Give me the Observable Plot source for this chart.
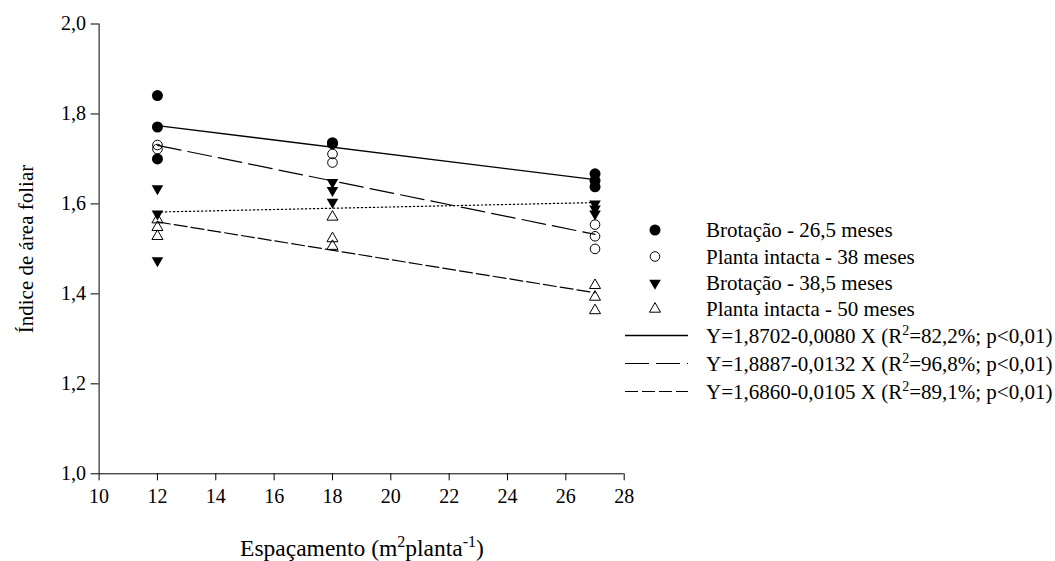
<!DOCTYPE html>
<html>
<head>
<meta charset="utf-8">
<script src="https://cdn.jsdelivr.net/npm/d3@7"></script>
<script src="https://cdn.jsdelivr.net/npm/@observablehq/plot@0.6"></script>
<style>
  html, body { margin: 0; padding: 0; background: #fff; }
  #chart svg { display: block; }
</style>
</head>
<body>
<div id="chart"></div>
<script>
// Spacing treatments (m² per plant) and observed leaf area index per treatment
const spacing = [12, 18, 27];
const brotacao265 = [[1.841, 1.771, 1.700], [1.736, 1.734], [1.667, 1.652, 1.638]];
const planta38    = [[1.731, 1.722], [1.711, 1.692], [1.554, 1.528, 1.500]];
const brotacao385 = [[1.634, 1.578, 1.474], [1.648, 1.630, 1.604], [1.600, 1.589, 1.578]];
const planta50    = [[1.565, 1.548, 1.528], [1.571, 1.523, 1.506], [1.419, 1.393, 1.363]];

// Fitted linear models Y = a + bX (brotação 26,5; planta 38; brotação 38,5; planta 50)
const fitIntercept = [1.8702, 1.8887, 1.5652, 1.6860];
const fitSlope     = [-0.0080, -0.0132, 0.0014, -0.0105];
const fitRange     = [12, 27];

const seriesLabels = ["Brotação - 26,5 meses", "Planta intacta - 38 meses", "Brotação - 38,5 meses", "Planta intacta - 50 meses"];
const equationLabels = ["Y=1,8702-0,0080 X (R", "Y=1,8887-0,0132 X (R", "Y=1,6860-0,0105 X (R"];
const r2Labels = ["=82,2%; p<0,01)", "=96,8%; p<0,01)", "=89,1%; p<0,01)"];

const xTicks = [10, 12, 14, 16, 18, 20, 22, 24, 26, 28];
const yTicks = [1.0, 1.2, 1.4, 1.6, 1.8, 2.0];

const SERIF = "'Liberation Serif', 'Times New Roman', serif";
const comma = d => d3.format(".1f")(d).replace(".", ",");

// Downward-pointing triangle with the same geometry as d3.symbolTriangle
const triangleDown = {
  draw(context, size) {
    const y = -Math.sqrt(size / (Math.sqrt(3) * 3));
    context.moveTo(0, -2 * y);
    context.lineTo(-Math.sqrt(3) * y, y);
    context.lineTo(Math.sqrt(3) * y, y);
    context.closePath();
  }
};

const groups = [brotacao265, planta38, brotacao385, planta50];
const points = groups.flatMap((g, s) =>
  g.flatMap((vals, i) => vals.map(v => ({x: spacing[i], y: v, s})))
);
const fits = [0, 1, 2, 3].flatMap(s =>
  fitRange.map(x => ({x, y: fitIntercept[s] + fitSlope[s] * x, s}))
);

const lineStyles = [
  {strokeDasharray: null, strokeWidth: 1.3},
  {strokeDasharray: "24,7", strokeWidth: 1.2},
  {strokeDasharray: "1.3,2.7", strokeWidth: 1.2},
  {strokeDasharray: "13,4", strokeWidth: 1.2}
];
const markerStyles = [
  {symbol: "circle", r: 5.5, fill: "black", stroke: "none"},
  {symbol: "circle", r: 4.8, fill: "none", stroke: "black"},
  {symbol: triangleDown, r: 4.3, fill: "black", stroke: "none"},
  {symbol: "triangle", r: 4.1, fill: "none", stroke: "black"}
];

const chart = Plot.plot({
  width: 1055,
  height: 561,
  marginLeft: 98.6,
  marginRight: 431.3,
  marginTop: 23.5,
  marginBottom: 87.7,
  style: {fontFamily: SERIF, fontSize: "20px", color: "black", background: "white"},
  x: {domain: [10, 28]},
  y: {domain: [1.0, 2.0]},
  marks: [
    Plot.axisX({ticks: xTicks, tickSize: 7, tickPadding: 8, tickFormat: d => String(d), label: null}),
    Plot.axisY({ticks: yTicks, tickSize: 8, tickPadding: 5, tickFormat: comma, label: null}),
    Plot.ruleX([10], {stroke: "black", strokeWidth: 1}),
    Plot.ruleY([1.0], {stroke: "black", strokeWidth: 1}),
    ...lineStyles.map((st, s) => Plot.line(fits.filter(d => d.s === s), {
      x: "x", y: "y", stroke: "black", strokeWidth: st.strokeWidth, strokeDasharray: st.strokeDasharray
    })),
    ...markerStyles.map((m, s) => Plot.dot(points.filter(d => d.s === s), {
      x: "x", y: "y", symbol: () => m.symbol, r: m.r, fill: m.fill, stroke: m.stroke, strokeWidth: 1
    }))
  ]
});

document.getElementById("chart").appendChild(chart);

const svg = d3.select(chart);

// Axis titles with superscripts
svg.append("text")
  .attr("transform", "translate(33,249) rotate(-90)")
  .attr("text-anchor", "middle")
  .attr("font-family", SERIF).attr("font-size", 21).attr("fill", "black")
  .text("Índice de área foliar");

const xTitle = svg.append("text")
  .attr("x", 362).attr("y", 556)
  .attr("text-anchor", "middle")
  .attr("font-family", SERIF).attr("font-size", 23.5).attr("fill", "black");
xTitle.append("tspan").text("Espaçamento (m");
xTitle.append("tspan").attr("font-size", 16).attr("dy", -9).text("2");
xTitle.append("tspan").attr("dy", 9).text("planta");
xTitle.append("tspan").attr("font-size", 16).attr("dy", -9).text("-1");
xTitle.append("tspan").attr("dy", 9).text(")");

// Legend: markers, then fitted-line samples with their equations
const legend = svg.append("g")
  .attr("text-anchor", "start")
  .attr("font-family", SERIF).attr("font-size", 21).attr("fill", "black");
const markerRowY = [230, 256.5, 283, 309];
const lineRowY = [335.5, 363.5, 391.5];

markerStyles.forEach((m, i) => {
  const sym = typeof m.symbol === "string" ? (m.symbol === "circle" ? d3.symbolCircle : d3.symbolTriangle) : m.symbol;
  legend.append("path")
    .attr("transform", `translate(655,${markerRowY[i]})`)
    .attr("d", d3.symbol(sym, Math.PI * m.r * m.r)())
    .attr("fill", m.fill).attr("stroke", m.stroke);
  legend.append("text")
    .attr("x", 706).attr("y", markerRowY[i] + 7)
    .text(seriesLabels[i]);
});

[0, 1, 3].forEach((s, i) => {
  const st = lineStyles[s];
  legend.append("line")
    .attr("x1", 625).attr("x2", 688)
    .attr("y1", lineRowY[i]).attr("y2", lineRowY[i])
    .attr("stroke", "black").attr("stroke-width", st.strokeWidth)
    .attr("stroke-dasharray", st.strokeDasharray);
  const t = legend.append("text").attr("x", 706).attr("y", lineRowY[i] + 7);
  t.append("tspan").text(equationLabels[i]);
  t.append("tspan").attr("font-size", 14).attr("dy", -8).text("2");
  t.append("tspan").attr("dy", 8).text(r2Labels[i]);
});
</script>
</body>
</html>
